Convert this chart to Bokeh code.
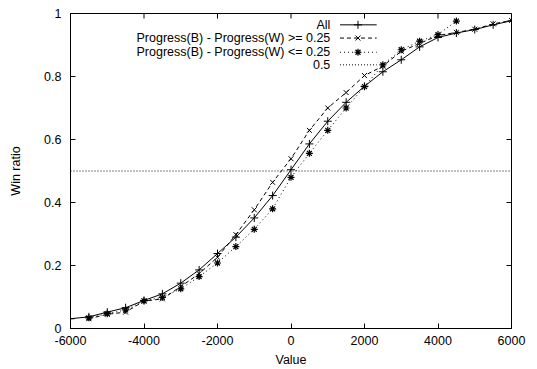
from bokeh.plotting import figure
from bokeh.models import Range1d, FixedTicker
from bokeh.core.properties import value
from bokeh.embed import file_html
from bokeh.resources import INLINE

# ---- data ----
x_all = [-6000, -5500, -5000, -4500, -4000, -3500, -3000, -2500, -2000, -1500, -1000, -500,
         0, 500, 1000, 1500, 2000, 2500, 3000, 3500, 4000, 4500, 5000, 5500, 6000]
y_all = [0.031, 0.037, 0.052, 0.066, 0.089, 0.110, 0.144, 0.186, 0.238, 0.290, 0.351, 0.422,
         0.504, 0.586, 0.658, 0.718, 0.769, 0.815, 0.853, 0.894, 0.924, 0.938, 0.949, 0.964, 0.977]

x_ge = [-5500, -5000, -4500, -4000, -3500, -3000, -2500, -2000, -1500, -1000, -500,
        0, 500, 1000, 1500, 2000, 2500, 3000, 3500, 4000, 4500, 5000, 5500, 6000]
y_ge = [0.031, 0.045, 0.052, 0.087, 0.094, 0.133, 0.174, 0.226, 0.298, 0.377, 0.464,
        0.539, 0.629, 0.700, 0.749, 0.803, 0.833, 0.880, 0.905, 0.930, 0.940, 0.950, 0.967, 0.978]

x_le = [-5500, -5000, -4500, -4000, -3500, -3000, -2500, -2000, -1500, -1000, -500,
        0, 500, 1000, 1500, 2000, 2500, 3000, 3500, 4000, 4500]
y_le = [0.034, 0.047, 0.059, 0.088, 0.099, 0.126, 0.165, 0.208, 0.260, 0.315, 0.380,
        0.480, 0.556, 0.629, 0.700, 0.768, 0.837, 0.885, 0.912, 0.933, 0.976]

ref_level = 0.5
x_ticks = [-6000, -4000, -2000, 0, 2000, 4000, 6000]
y_ticks = [0, 0.2, 0.4, 0.6, 0.8, 1]
labels = ["All", "Progress(B) - Progress(W) >= 0.25", "Progress(B) - Progress(W) <= 0.25", "0.5"]

FONT = "Liberation Sans"
FS = "12.5px"
X0, X1, Y0, Y1 = -6000, 6000, 0, 1
W, H = 537, 369
BL, BR, BT, BB = 70, 26, 13, 41
TICK_PX = 5

p = figure(width=W, height=H, output_backend="svg", toolbar_location=None,
           x_range=Range1d(X0, X1), y_range=Range1d(Y0, Y1),
           min_border_left=BL, min_border_right=BR, min_border_top=BT, min_border_bottom=BB,
           background_fill_color="white", border_fill_color="white")
p.grid.visible = False
p.outline_line_color = "black"
p.outline_line_width = 1

for ax, t in ((p.xaxis[0], x_ticks), (p.yaxis[0], y_ticks)):
    ax.ticker = FixedTicker(ticks=t)
    ax.major_tick_in = TICK_PX
    ax.major_tick_out = 0
    ax.minor_tick_line_color = None
    ax.axis_line_color = "black"
    ax.major_tick_line_color = "black"
    ax.major_label_text_font = FONT
    ax.major_label_text_font_size = FS
    ax.major_label_text_color = "black"
    ax.axis_label_text_font = FONT
    ax.axis_label_text_font_size = FS
    ax.axis_label_text_font_style = "normal"
    ax.axis_label_text_color = "black"

p.xaxis[0].major_label_overrides = {t: str(t) for t in x_ticks}
p.yaxis[0].major_label_overrides = {0: "0", 1: "1"}
p.xaxis[0].major_label_standoff = 7
p.yaxis[0].major_label_standoff = 9
p.xaxis[0].axis_label = "Value"
p.xaxis[0].axis_label_standoff = 5
p.yaxis[0].axis_label = "Win ratio"
p.yaxis[0].axis_label_standoff = 18

# mirrored ticks on top and right borders (gnuplot style)
fw = W - BL - BR
fh = H - BT - BB
dx = TICK_PX * (X1 - X0) / fw
dy = TICK_PX * (Y1 - Y0) / fh
p.segment(x0=x_ticks, y0=[Y1] * len(x_ticks), x1=x_ticks, y1=[Y1 - dy] * len(x_ticks),
          line_color="black", line_width=1)
p.segment(x0=[X1] * len(y_ticks), y0=y_ticks, x1=[X1 - dx] * len(y_ticks), y1=y_ticks,
          line_color="black", line_width=1)

# ---- series ----
p.line(x_all, y_all, line_color="black", line_width=1)
p.scatter(x_all, y_all, marker="cross", size=8, line_color="black", line_width=1)

p.line(x_ge, y_ge, line_color="black", line_width=1, line_dash="4 3")
p.scatter(x_ge, y_ge, marker="x", size=7, line_color="black", line_width=1)

p.line(x_le, y_le, line_color="black", line_width=1, line_dash="1 3")
p.scatter(x_le, y_le, marker="asterisk", size=7, line_color="black", line_width=1.2)

p.line([X0, X1], [ref_level, ref_level], line_color="black", line_width=1, line_dash="1 2")

# ---- key (gnuplot style: text right-aligned, sample to the right) ----
key_text_x = 1070
key_x0, key_x1, key_xm = 1333, 2332, 1823
key_rows = [0.964, 0.922, 0.877, 0.837]
p.text([key_text_x] * 4, key_rows, text=labels, text_align="right", text_baseline="middle",
       text_font=value(FONT), text_font_size=FS, text_color="black")
dashes = ["solid", "4 3", "1 3", "1 2"]
for r, d in zip(key_rows, dashes):
    p.line([key_x0, key_x1], [r, r], line_color="black", line_width=1, line_dash=d)
p.scatter([key_xm], [key_rows[0]], marker="cross", size=8, line_color="black")
p.scatter([key_xm], [key_rows[1]], marker="x", size=7, line_color="black")
p.scatter([key_xm], [key_rows[2]], marker="asterisk", size=7, line_color="black", line_width=1.2)

open("out.html", "w").write(file_html(p, INLINE))
